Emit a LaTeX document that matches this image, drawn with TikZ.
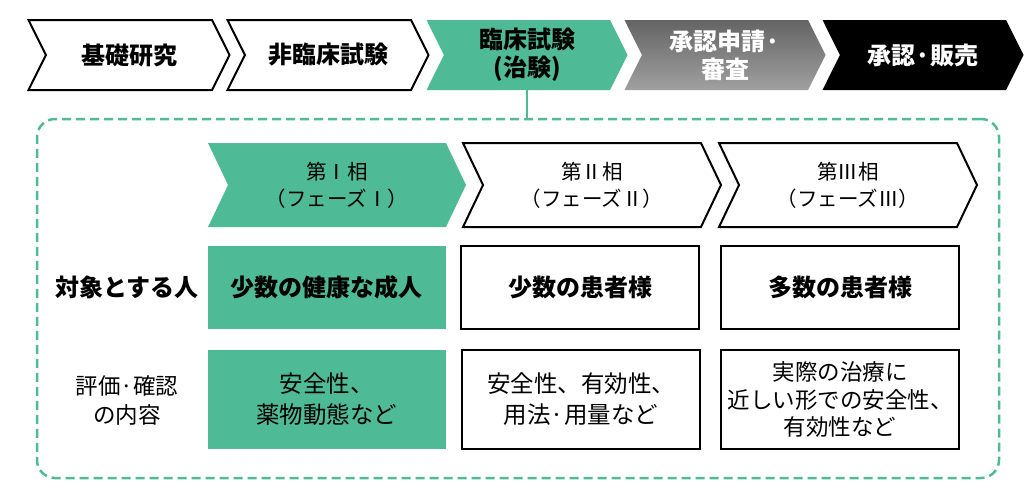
\documentclass[tikz,border=0pt]{standalone}
\usepackage{fontspec}
\setmainfont{Noto Sans CJK JP}
\usetikzlibrary{shapes.symbols}
\definecolor{chikengreen}{RGB}{79,187,150}
\tikzset{
  flowstep/.style={signal, signal from=west, signal to=east, signal pointer angle=127,
    minimum width=201, minimum height=70, inner sep=0pt, outer sep=0pt, align=center,
    font=\fontsize{24}{28}\selectfont\bfseries},
  phasestep/.style={signal, signal from=west, signal to=east, signal pointer angle=129,
    minimum width=258, minimum height=84, inner sep=0pt, outer sep=0pt, align=center,
    font=\fontsize{20.5}{27}\selectfont},
  cellbox/.style={rectangle, minimum width=238, inner sep=0pt, outer sep=0pt, align=center,
    font=\fontsize{23.5}{31}\selectfont},
  blackline/.style={draw=black, line width=2pt},
}
\begin{document}
\begin{tikzpicture}[x=1pt,y=-1pt]
  \useasboundingbox (0,0) rectangle (1028,501);
  % top flow
  \node[flowstep, blackline, fill=white] (basic) at (129,55) {基礎研究};
  \node[flowstep, blackline, fill=white] (nonclin) at (328,55) {非臨床試験};
  \node[flowstep, fill=chikengreen] (clinical) at (527,55) {臨床試験\\(治験)};
  \node[flowstep, top color={rgb,255:red,100;green,100;blue,100}, bottom color={rgb,255:red,160;green,160;blue,160}, text=white] (review) at (725,55) {承認申請·\\審査};
  \node[flowstep, fill=black, text=white] (sales) at (923,55) {承認·販売};
  % dashed frame
  \node[draw=chikengreen, line width=2.5pt, dash pattern=on 9pt off 5pt, rounded corners=18pt,
    minimum width=962, minimum height=359, inner sep=0pt] (frame) at (518,298.5) {};
  \draw[chikengreen, line width=2pt] (clinical.south) -- (clinical.south |- frame.north);
  % phases
  \node[phasestep, fill=chikengreen] (ph1) at (337,185) {第Ⅰ相\\（フェーズⅠ）};
  \node[phasestep, blackline, fill=white] (ph2) at (592,185) {第Ⅱ相\\（フェーズⅡ）};
  \node[phasestep, blackline, fill=white] (ph3) at (848,185) {第Ⅲ相\\（フェーズⅢ）};
  % subjects
  \node[font=\fontsize{24}{29}\selectfont\bfseries] (subjlbl) at (127,287) {対象とする人};
  \node[cellbox, fill=chikengreen, minimum height=83, font=\fontsize{24}{29}\selectfont\bfseries] (subj1) at (326.5,287) {少数の健康な成人};
  \node[cellbox, blackline, minimum height=83, font=\fontsize{24}{29}\selectfont\bfseries] (subj2) at (580,287) {少数の患者様};
  \node[cellbox, blackline, minimum height=83, font=\fontsize{24}{29}\selectfont\bfseries] (subj3) at (840,287) {多数の患者様};
  % evaluation
  \node[align=center, font=\fontsize{22.5}{29}\selectfont] (evallbl) at (127,400) {評価·確認\\の内容};
  \node[cellbox, fill=chikengreen, minimum height=99] (eval1) at (326.5,399.5) {安全性、\\薬物動態など};
  \node[cellbox, blackline, minimum height=99] (eval2) at (581,399.5) {安全性、有効性、\\用法·用量など};
  \node[cellbox, blackline, minimum height=99, font=\fontsize{22.5}{27.5}\selectfont] (eval3) at (840,399.5) {実際の治療に\\近しい形での安全性、\\有効性など};
\end{tikzpicture}
\end{document}
